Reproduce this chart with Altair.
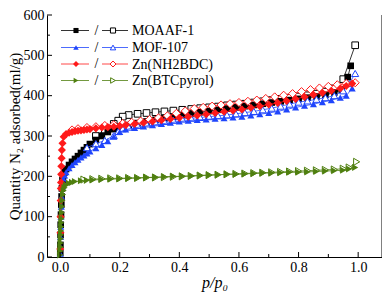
import altair as alt
import pandas as pd

# ---------------- data ----------------
names = ["MOAAF-1", "MOF-107", "Zn(NH2BDC)", "Zn(BTCpyrol)"]
colors = ["#000000", "#1F45FC", "#FF1A1A", "#4F7F0F"]
shapes = ["square", "triangle-up", "diamond", "triangle-right"]

# MOAAF-1
p_ma = [0.0005, 0.001, 0.0015, 0.002, 0.003, 0.004, 0.005, 0.006, 0.008, 0.01,
        0.015, 0.02, 0.03, 0.04, 0.05, 0.06, 0.07, 0.08, 0.09, 0.10,
        0.12, 0.14, 0.16, 0.18, 0.20, 0.23, 0.26, 0.29, 0.32, 0.35,
        0.38, 0.41, 0.44, 0.47, 0.50, 0.53, 0.56, 0.59, 0.62, 0.65,
        0.68, 0.71, 0.74, 0.77, 0.80, 0.83, 0.86, 0.89, 0.92, 0.945, 0.965, 0.975]
q_ma = [10, 30, 55, 80, 105, 130, 150, 170, 190, 200,
        210, 218, 228, 236, 243, 250, 258, 265, 272, 280,
        290, 300, 310, 317, 322, 327, 332, 336, 340, 344,
        348, 352, 356, 359, 362, 365, 368, 371, 374, 377,
        380, 383, 386, 389, 392, 395, 398, 402, 408, 415, 446, 474]
p_md = [0.99, 0.95, 0.92, 0.89, 0.86, 0.83, 0.80, 0.77, 0.74, 0.71,
        0.68, 0.65, 0.62, 0.59, 0.56, 0.53, 0.50, 0.47, 0.44, 0.41,
        0.38, 0.35, 0.32, 0.29, 0.26, 0.23, 0.21, 0.195, 0.18, 0.15, 0.12]
q_md = [525, 441, 418, 410, 405, 401, 398, 395, 392, 389,
        386, 383, 380, 378, 376, 373, 371, 369, 367, 365,
        363, 361, 359, 357, 355, 352, 348, 338, 330, 316, 300]

# MOF-107
p_fa = [0.0005, 0.001, 0.0015, 0.002, 0.003, 0.004, 0.005, 0.007, 0.01, 0.015,
        0.02, 0.03, 0.04, 0.05, 0.06, 0.07, 0.08, 0.09, 0.10, 0.12,
        0.14, 0.16, 0.18, 0.20, 0.22, 0.25, 0.28, 0.31, 0.34, 0.37,
        0.40, 0.43, 0.46, 0.49, 0.52, 0.55, 0.58, 0.61, 0.64, 0.67,
        0.70, 0.73, 0.76, 0.79, 0.82, 0.85, 0.88, 0.91, 0.94, 0.96, 0.98]
q_fa = [8, 25, 50, 75, 100, 125, 150, 175, 195, 202,
        210, 220, 228, 235, 241, 247, 252, 257, 262, 270,
        278, 287, 298, 310, 316, 320, 324, 327, 330, 333,
        336, 338, 340, 341, 343, 344, 346, 348, 351, 354,
        357, 361, 366, 371, 375, 379, 384, 389, 395, 400, 418]
p_fd = [0.99, 0.97, 0.95, 0.92, 0.89, 0.86, 0.83, 0.80, 0.77, 0.74,
        0.71, 0.68, 0.65, 0.62, 0.59, 0.56, 0.53, 0.50, 0.47, 0.44,
        0.41, 0.38, 0.35, 0.32, 0.29, 0.26, 0.23, 0.21, 0.195, 0.18,
        0.15, 0.12, 0.09]
q_fd = [455, 430, 412, 400, 395, 391, 387, 384, 379, 374,
        369, 365, 361, 358, 355, 352, 350, 348, 346, 344,
        342, 339, 336, 333, 330, 326, 322, 318, 311, 301,
        289, 281, 271]

# Zn(NH2BDC)
p_za = [0.0005, 0.001, 0.0015, 0.002, 0.0025, 0.003, 0.0035, 0.004, 0.005, 0.006,
        0.008, 0.012, 0.02, 0.03, 0.04, 0.05, 0.06, 0.07, 0.08, 0.09,
        0.10, 0.12, 0.14, 0.16, 0.18, 0.20, 0.22, 0.25, 0.28, 0.31,
        0.34, 0.37, 0.40, 0.43, 0.46, 0.49, 0.52, 0.55, 0.58, 0.61,
        0.64, 0.67, 0.70, 0.73, 0.76, 0.79, 0.82, 0.85, 0.88, 0.91,
        0.94, 0.96, 0.98]
q_za = [20, 60, 100, 140, 170, 185, 205, 225, 245, 265,
        282, 298, 305, 308, 310, 312, 313, 314, 315, 316,
        317, 319, 321, 322, 323, 325, 327, 330, 333, 336,
        339, 342, 345, 348, 351, 354, 357, 360, 363, 366,
        370, 374, 378, 382, 387, 392, 397, 402, 407, 412,
        418, 424, 430]
p_zd = [0.99, 0.96, 0.93, 0.90, 0.87, 0.84, 0.81, 0.78, 0.75, 0.72,
        0.69, 0.66, 0.63, 0.60, 0.57, 0.54, 0.51, 0.48, 0.45, 0.42,
        0.39, 0.36, 0.33, 0.30, 0.27, 0.24, 0.21, 0.18, 0.15, 0.12,
        0.09, 0.06, 0.04]
q_zd = [432, 430, 427, 423, 419, 415, 410, 405, 401, 397,
        393, 389, 386, 383, 380, 377, 374, 371, 368, 362,
        356, 350, 345, 341, 337, 334, 331, 328, 326, 323,
        321, 318, 315]

# Zn(BTCpyrol)
p_ba = [0.0005, 0.001, 0.0015, 0.002, 0.0025, 0.003, 0.0035, 0.004, 0.0045, 0.005,
        0.006, 0.007, 0.008, 0.01, 0.012, 0.015, 0.02, 0.03, 0.04, 0.05,
        0.07, 0.09, 0.11, 0.14, 0.17, 0.20, 0.23, 0.26, 0.29, 0.32,
        0.35, 0.38, 0.41, 0.44, 0.47, 0.50, 0.53, 0.56, 0.59, 0.62,
        0.65, 0.68, 0.71, 0.74, 0.77, 0.80, 0.83, 0.86, 0.89, 0.92,
        0.95, 0.97, 0.99]
q_ba = [5, 15, 25, 35, 45, 55, 65, 75, 85, 95,
        110, 125, 140, 155, 165, 172, 178, 183, 185, 187,
        189, 190, 191, 192, 193, 194, 195, 196, 197, 198,
        199, 200, 200, 201, 202, 203, 204, 205, 205, 206,
        207, 208, 208, 209, 210, 210, 211, 212, 213, 214,
        215, 218, 222]
p_bd = [0.995, 0.97, 0.95, 0.92, 0.89, 0.86, 0.83, 0.80, 0.77, 0.74,
        0.71, 0.68, 0.65, 0.62, 0.59, 0.56, 0.53, 0.50, 0.47, 0.44,
        0.41, 0.38, 0.35, 0.32, 0.29, 0.26, 0.23, 0.20, 0.17, 0.14,
        0.11, 0.08]
q_bd = [236, 222, 219, 217, 216, 215, 214, 213, 212, 211,
        210, 209, 208, 207, 206, 205, 204, 203, 202, 201,
        200, 199, 198, 197, 197, 196, 196, 195, 195, 194,
        193, 192]

ads = [(p_ma, q_ma), (p_fa, q_fa), (p_za, q_za), (p_ba, q_ba)]
des = [(p_md, q_md), (p_fd, q_fd), (p_zd, q_zd), (p_bd, q_bd)]

x_major = [0.0, 0.2, 0.4, 0.6, 0.8, 1.0]
x_minor = [0.1, 0.3, 0.5, 0.7, 0.9]
y_major = [0, 100, 200, 300, 400, 500, 600]
y_minor = [50, 150, 250, 350, 450, 550]

# ---------------- chart ----------------
W, H = 335, 242
FONT = "Liberation Serif"
XT = "p/p₀"
YT = "Quantity N₂ adsorbed(ml/g)"
xscale = alt.Scale(domain=[-0.044, 1.08], nice=False, zero=False)
yscale = alt.Scale(domain=[0, 600], nice=False, zero=False)

xaxis = alt.Axis(values=x_major, format=".1f", ticks=False, grid=False,
                 labelFont=FONT, labelFontSize=14, labelColor="black",
                 labelPadding=3, labelFlush=False, labelOverlap=False,
                 domainColor="black", domainWidth=1,
                 title=XT, titleFont=FONT, titleFontSize=16,
                 titleFontStyle="italic", titleFontWeight="normal",
                 titleColor="black", titlePadding=0)
yaxis = alt.Axis(values=y_major, format="d", ticks=False, grid=False,
                 labelFont=FONT, labelFontSize=14, labelColor="black",
                 labelPadding=3, labelFlush=False, labelOverlap=False,
                 domainColor="black", domainWidth=1,
                 title=YT, titleFont=FONT,
                 titleFontSize=15, titleFontWeight="normal", titleColor="black",
                 titleX=-33, titleY=H / 2, titleAngle=270, titleBaseline="middle",
                 titleAlign="center")


def X(field):
    return alt.X(field, scale=xscale, axis=xaxis, title=XT)


def Y(field):
    return alt.Y(field, scale=yscale, axis=yaxis, title=YT)


layers = []

sizes = [44, 50, 66, 50]
for k in range(4):
    for kind, (pp, qq) in (("des", des[k]), ("ads", ads[k])):
        df = pd.DataFrame({"p": pp, "q": qq, "i": list(range(len(pp)))})
        layers.append(
            alt.Chart(df).mark_line(color=colors[k], strokeWidth=0.8).encode(
                x=X("p:Q"), y=Y("q:Q"), order=alt.Order("i:Q"))
        )
        if kind == "ads":
            pt = alt.Chart(df).mark_point(shape=shapes[k], filled=True,
                                          color=colors[k], size=sizes[k],
                                          opacity=1, strokeWidth=0)
        else:
            pt = alt.Chart(df).mark_point(shape=shapes[k], filled=True,
                                          fill="white", stroke=colors[k],
                                          strokeWidth=1, size=sizes[k],
                                          opacity=1, fillOpacity=1)
        layers.append(pt.encode(x=X("p:Q"), y=Y("q:Q")))


# inward ticks
def xticks(vals, ln):
    return alt.Chart(pd.DataFrame({"p": vals})).mark_rule(color="black", strokeWidth=1).encode(
        x=X("p:Q"), y=alt.value(H), y2=alt.value(H - ln))


def yticks(vals, ln):
    return alt.Chart(pd.DataFrame({"q": vals})).mark_rule(color="black", strokeWidth=1).encode(
        y=Y("q:Q"), x=alt.value(0), x2=alt.value(ln))


layers += [xticks(x_major, 5), xticks(x_minor, 3), yticks(y_major, 5), yticks(y_minor, 3)]

# right frame line
layers.append(
    alt.Chart(pd.DataFrame({"a": [0]})).mark_rule(color="black", strokeWidth=1).encode(
        x=alt.value(W), y=alt.value(0), y2=alt.value(H))
)

# legend
rows = [15.5, 32.5, 49.0, 65.5]
leg_sizes = [26, 30, 36, 30]
one = pd.DataFrame({"a": [0]})
for k in range(4):
    ry = rows[k]
    c = colors[k]
    layers.append(alt.Chart(one).mark_rule(color=c, strokeWidth=0.8).encode(
        x=alt.value(14), x2=alt.value(42), y=alt.value(ry)))
    layers.append(alt.Chart(one).mark_rule(color=c, strokeWidth=0.8).encode(
        x=alt.value(55), x2=alt.value(81), y=alt.value(ry)))
    layers.append(alt.Chart(one).mark_point(shape=shapes[k], filled=True, color=c,
                                            size=leg_sizes[k], opacity=1, strokeWidth=0).encode(
        x=alt.value(29), y=alt.value(ry)))
    layers.append(alt.Chart(one).mark_point(shape=shapes[k], filled=True, fill="white",
                                            stroke=c, strokeWidth=1, size=leg_sizes[k],
                                            opacity=1).encode(
        x=alt.value(66), y=alt.value(ry)))
    layers.append(alt.Chart(one).mark_text(text="/", font=FONT, fontSize=14, color="black",
                                           align="center", baseline="middle").encode(
        x=alt.value(49.5), y=alt.value(ry)))
    layers.append(alt.Chart(one).mark_text(text=names[k], font=FONT, fontSize=14, color="black",
                                           align="left", baseline="middle").encode(
        x=alt.value(85), y=alt.value(ry + 0.5)))

chart = alt.layer(*layers).properties(
    width=W, height=H,
    padding={"left": 39, "top": 7, "right": 0, "bottom": 38},
    autosize=alt.AutoSizeParams(type="none"),
    background="white",
).configure_view(stroke=None)

chart.save("out.html", embed_options={"renderer": "svg", "actions": False})
